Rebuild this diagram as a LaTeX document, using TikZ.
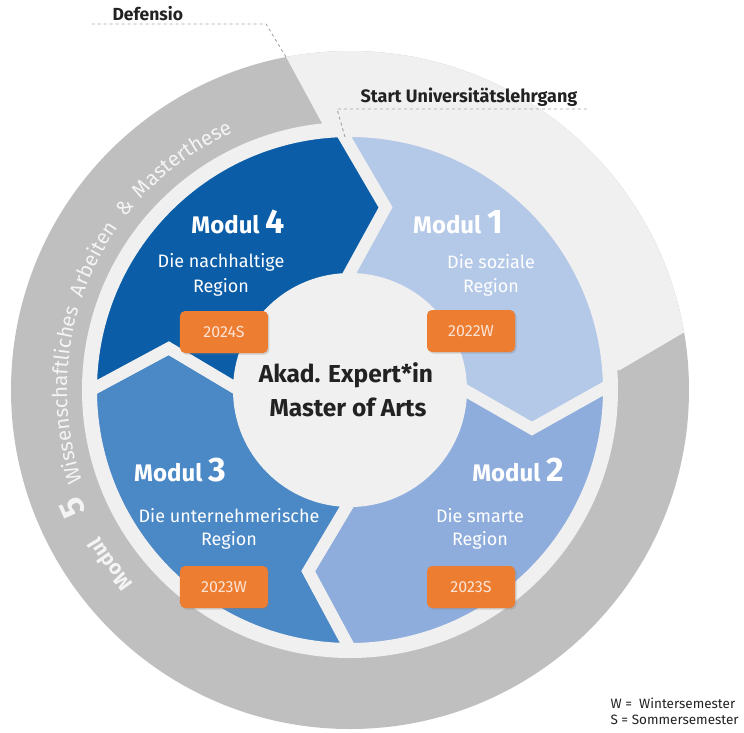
\documentclass[tikz,border=0pt]{standalone}
\usepackage{fontspec}
\setmainfont{Fira Sans}
\usetikzlibrary{decorations.text,shadows}

\definecolor{ringgrau}{HTML}{BFBFBF}
\definecolor{hellgrau}{HTML}{F0F0F0}
\definecolor{modA}{HTML}{B4C8E8}
\definecolor{modB}{HTML}{8EADDC}
\definecolor{modC}{HTML}{4A88C6}
\definecolor{modD}{HTML}{0B5DA8}
\definecolor{semorange}{HTML}{ED7D31}
\definecolor{semtext}{HTML}{FCE4D6}
\definecolor{strich}{HTML}{A6A6A6}
\definecolor{schrift}{HTML}{222222}
\definecolor{ringtext}{HTML}{F4F4F4}

\newcommand{\zahl}[1]{{\fontsize{34}{38}\selectfont #1}}
\newcommand{\ringfont}{\color{ringtext}\fontsize{20.5}{24}\selectfont}

\tikzset{
	modul/.style={fill=#1, draw=hellgrau, line width=12pt},
	titel/.style={anchor=base, text=white, font=\bfseries\fontsize{24}{28}\selectfont},
	untertitel/.style={anchor=base, text=white, font=\fontsize{18}{22}\selectfont},
	semester/.style={fill=semorange, rounded corners=5pt, minimum width=88pt,
		minimum height=42pt, text=semtext, font=\fontsize{16}{19}\selectfont,
		drop shadow={shadow xshift=1.5pt, shadow yshift=-1.5pt, opacity=0.3}},
	leitlinie/.style={draw=strich, dashed, line width=0.9pt},
	ringwort/.style={decorate, decoration={text along path, text align=center, text={#1}}},
}

\begin{document}
\begin{tikzpicture}[x=1pt,y=1pt]

	\fill[white] (-350,-342) rectangle (394,390);
	\useasboundingbox (-350,-342) rectangle (394,390);

% Ring Modul 5
	\fill[ringgrau] (0,0) circle (339pt);
	\begin{scope}
		\clip (0,0) circle (339pt);
		\fill[hellgrau] (0,0) -- (270,20) -- (396,94) -- (396,420) -- (-103,405) -- (-27,265) -- cycle;
	\end{scope}
	\fill[hellgrau] (0,0) circle (268pt);

% Module 1 bis 4
	\foreach \a/\b/\col in {92/1/modA, 1/-90/modB, -90/-180/modC, 180/92/modD}
		\path[modul=\col] (\a:259pt) arc[start angle=\a, end angle=\b, radius=259pt]
			-- ({\b-13}:186pt) -- (\b:111pt) arc[start angle=\b, end angle=\a, radius=111pt]
			-- ({\a-13}:186pt) -- cycle;

	\node[titel] (titel1) at (108,157) {Modul \zahl{1}};
	\node[untertitel] (region1a) at (141,122) {Die soziale};
	\node[untertitel] (region1b) at (141,98) {Region};
	\node[semester] (sem1) at (121,59) {2022W};

	\node[titel] (titel2) at (168,-91) {Modul \zahl{2}};
	\node[untertitel] (region2a) at (130,-132) {Die smarte};
	\node[untertitel] (region2b) at (130,-155) {Region};
	\node[semester] (sem2) at (121,-197) {2023S};

	\node[titel] (titel3) at (-170,-91) {Modul \zahl{3}};
	\node[untertitel] (region3a) at (-121,-132) {Die unternehmerische};
	\node[untertitel] (region3b) at (-121,-155) {Region};
	\node[semester] (sem3) at (-126,-197) {2023W};

	\node[titel] (titel4) at (-112,157) {Modul \zahl{4}};
	\node[untertitel] (region4a) at (-129,123) {Die nachhaltige};
	\node[untertitel] (region4b) at (-129,98) {Region};
	\node[semester] (sem4) at (-126,58) {2024S};

% Mitte
	\node[anchor=base, text=schrift, font=\bfseries\fontsize{24.5}{28}\selectfont] (akad) at (-4,8) {Akad. Expert*in};
	\node[anchor=base, text=schrift, font=\bfseries\fontsize{24.5}{28}\selectfont] (master) at (-2,-26) {Master of Arts};

% Beschriftung Ring
	\path[ringwort={|\ringfont\bfseries|Modul}] (246:290pt) arc[start angle=246, end angle=186, radius=290pt];
	\node[rotate=114, anchor=base, text=ringtext, font=\bfseries\fontsize{34}{38}\selectfont] (fuenf) at (203:290pt) {5};
	\path[ringwort={|\ringfont|Wissenschaftliches}] (211:283pt) arc[start angle=211, end angle=151, radius=283pt];
	\path[ringwort={|\ringfont|Arbeiten}] (183:283pt) arc[start angle=183, end angle=123, radius=283pt];
	\path[ringwort={|\ringfont|{\&}}] (171:283pt) arc[start angle=171, end angle=111, radius=283pt];
	\path[ringwort={|\ringfont|Masterthese}] (156:283pt) arc[start angle=156, end angle=96, radius=283pt];

% Defensio und Start
	\coordinate (defA) at (-64,333);
	\coordinate (defB) at (-84,366);
	\coordinate (defC) at (-258,366);
	\draw[leitlinie] (defA) -- (defB) -- (defC);
	\node[anchor=base west, text=schrift, font=\bfseries\fontsize{17.5}{20}\selectfont] (defensio) at (-241,370) {Defensio};

	\coordinate (startA) at (-5,253);
	\coordinate (startB) at (-13,281);
	\coordinate (startC) at (238,281);
	\draw[leitlinie] (startA) -- (startB) -- (startC);
	\node[anchor=base, text=schrift, font=\bfseries\fontsize{18}{20}\selectfont] (start) at (119,288) {Start Universitätslehrgang};

% Legende
	\node[anchor=base west, text=schrift, font=\fontsize{13.5}{15}\selectfont] (legW) at (257,-318) {W =\ \ Wintersemester};
	\node[anchor=base west, text=schrift, font=\fontsize{13.5}{15}\selectfont] (legS) at (257,-334) {S = Sommersemester};

\end{tikzpicture}
\end{document}
